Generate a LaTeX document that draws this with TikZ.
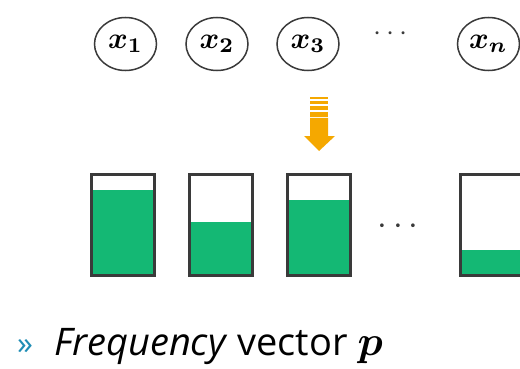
\documentclass[tikz,border=0pt]{standalone}
\usepackage{amsmath}
\usepackage{bm}
\usepackage{fontspec}
\setmainfont{Open Sans}
\usepackage{tikz}
\usetikzlibrary{shapes.geometric,positioning}
\definecolor{fillgreen}{HTML}{14B874}
\definecolor{boxgray}{HTML}{3A3A3A}
\definecolor{arroworange}{HTML}{F5A800}
\definecolor{bulletblue}{HTML}{1F8DB5}
% enlarged math, the math fonts only come in fixed sizes
\newcommand{\bigmath}[2]{\scalebox{#1}{\normalsize$#2$}}

\begin{document}
\begin{tikzpicture}[x=1pt, y=-1pt,
  var/.style={ellipse, draw=boxgray, line width=1.5pt, minimum width=62pt, minimum height=53pt, inner sep=0pt},
  bin/.style={draw=boxgray, line width=3pt},
  level/.style={fill=fillgreen},
  dotsnode/.style={text=boxgray, inner sep=0pt}]
\useasboundingbox (0,0) rectangle (520,369);

% variables on top
\node[var] (x1) at (125.5,44) {\bigmath{3.0}{\bm{x}_{\bm{1}}}};
\node[var] (x2) at (217,44) {\bigmath{3.0}{\bm{x}_{\bm{2}}}};
\node[var] (x3) at (308,44) {\bigmath{3.0}{\bm{x}_{\bm{3}}}};
\node[dotsnode] (topdots) at (393,34) {\bigmath{2.9}{\cdots}};
\node[var] (xn) at (488.5,44) {\bigmath{3.0}{\bm{x}_{\bm{n}}}};

% arrow pointing into the third bin
\coordinate (ar) at (319,0);
\begin{scope}[arroworange]
\fill ([xshift=-9]ar |- 0,97.3) rectangle ([xshift=9]ar |- 0,99.3);
\fill ([xshift=-9]ar |- 0,101) rectangle ([xshift=9]ar |- 0,104);
\fill ([xshift=-9]ar |- 0,106) rectangle ([xshift=9]ar |- 0,110);
\fill ([xshift=-9]ar |- 0,112) rectangle ([xshift=9]ar |- 0,117);
\fill ([xshift=-9]ar |- 0,118) -- ([xshift=9]ar |- 0,118) -- ([xshift=9]ar |- 0,136)
  -- ([xshift=16]ar |- 0,136) -- (ar |- 0,151) -- ([xshift=-15]ar |- 0,136)
  -- ([xshift=-9]ar |- 0,136) -- cycle;
\end{scope}

% bins with fill levels
\fill[level] (91.5,190) rectangle (154.5,275.5);
\draw[bin] (91.5,174.5) rectangle (154.5,275.5);
\fill[level] (189.5,222) rectangle (252.5,275.5);
\draw[bin] (189.5,174.5) rectangle (252.5,275.5);
\fill[level] (287.5,200) rectangle (350.5,275.5);
\draw[bin] (287.5,174.5) rectangle (350.5,275.5);
\node[dotsnode] (bindots) at (401,227) {\bigmath{3.5}{\cdots}};
\fill[level] (460.5,250) rectangle (523.5,275.5);
\draw[bin] (460.5,174.5) rectangle (523.5,275.5);

% caption line
\node[text=bulletblue, font=\fontsize{32}{34}\selectfont, anchor=base west, inner sep=0pt] (bullet) at (17,354) {»};
\node[anchor=base west, inner sep=0pt, font=\fontsize{38}{42}\selectfont] (caption) at (54,355)
  {\textit{Frequency} vector \bigmath{4.2}{\bm{p}}};
\end{tikzpicture}
\end{document}
